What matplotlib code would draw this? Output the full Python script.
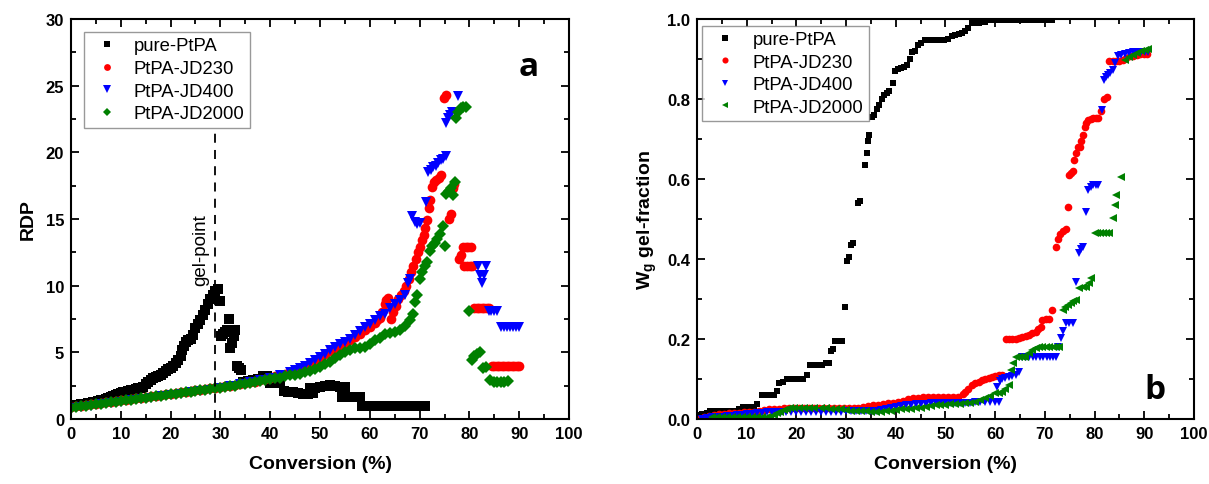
import matplotlib.pyplot as plt
from matplotlib.ticker import MultipleLocator

plt.rcParams['font.family'] = ['Liberation Sans', 'DejaVu Sans']
plt.rcParams['mathtext.fontset'] = 'custom'
plt.rcParams['mathtext.rm'] = 'Liberation Sans:bold'
plt.rcParams['mathtext.bf'] = 'Liberation Sans:bold'

labels = ['pure-PtPA', 'PtPA-JD230', 'PtPA-JD400', 'PtPA-JD2000']
colors = ['black', 'red', 'blue', 'green']

# ---- panel a: RDP vs conversion, (conversion %, RDP) ----
a_pure = [(0, 1.0), (0.5, 1.02), (1, 1.05), (1.5, 1.08), (2, 1.1), (2.5, 1.13), (3, 1.15),
          (3.5, 1.2), (4, 1.22), (4.5, 1.26), (5, 1.3), (5.5, 1.35), (6, 1.4), (6.5, 1.45),
          (7, 1.5), (7.5, 1.57), (8, 1.63), (8.5, 1.7), (9, 1.8), (9.5, 1.88), (10, 1.95),
          (10.5, 2.0), (11, 2.05), (11.5, 2.1), (12, 2.15), (12.5, 2.2), (13, 2.25), (13.5, 2.3),
          (14, 2.35), (14.5, 2.4), (15, 2.6), (15.5, 2.75), (16, 2.9), (16.5, 3.05), (17, 3.15),
          (17.5, 3.2), (18, 3.3), (18.5, 3.45), (19, 3.6), (19.5, 3.75), (20, 3.85), (20.5, 4.0),
          (21, 4.2), (21.5, 4.4), (22, 4.7), (22.3, 5.2), (22.6, 5.5), (23, 5.8), (23.5, 5.9),
          (24, 6.0), (24.5, 6.3), (25, 6.8), (25.5, 7.1), (26, 7.4), (26.5, 7.8), (27, 8.2),
          (27.5, 8.6), (28, 9.0), (28.5, 9.3), (29, 9.6), (29.5, 9.75), (29.9, 8.85), (30.2, 6.2),
          (30.6, 6.4), (31, 6.5), (31.4, 6.7), (31.7, 7.5), (32, 5.3), (32.3, 5.7), (32.7, 6.2),
          (33, 6.7), (33.3, 4.0), (33.8, 3.8), (34.2, 3.7), (34.6, 2.8), (35.5, 2.85), (36.5, 2.9),
          (37.5, 3.0), (38.5, 3.2), (39.3, 3.25), (40, 2.7), (41, 2.7), (42, 2.7), (42.7, 2.1),
          (43.5, 2.05), (44.5, 2.05), (45.5, 1.95), (46.5, 1.9), (47.5, 1.9), (48.5, 1.95),
          (48, 2.3), (49, 2.35), (50, 2.4), (51, 2.45), (52, 2.55), (53, 2.5), (54, 2.4), (55, 2.4),
          (54.5, 1.65), (55.5, 1.65), (56.5, 1.65), (57.5, 1.65), (58, 1.65), (58.5, 1.0),
          (59, 1.0), (59.5, 1.0), (60, 1.0), (60.5, 1.0), (61, 1.0), (61.5, 1.0), (62, 1.0),
          (62.5, 1.0), (63, 1.0), (63.5, 1.0), (64, 1.0), (64.5, 1.0), (65, 1.0), (65.5, 1.0),
          (66, 1.0), (66.5, 1.0), (67, 1.0), (67.5, 1.0), (68, 1.0), (68.5, 1.0), (69, 1.0),
          (69.5, 1.0), (70, 1.0), (70.5, 1.0), (71, 1.0)]

a_jd230 = [(0, 0.9), (1, 0.95), (2, 1.0), (3, 1.05), (4, 1.1), (5, 1.15), (6, 1.2), (7, 1.25),
           (8, 1.3), (9, 1.35), (10, 1.4), (11, 1.45), (12, 1.5), (13, 1.55), (14, 1.6), (15, 1.65),
           (16, 1.7), (17, 1.75), (18, 1.8), (19, 1.85), (20, 1.9), (21, 1.95), (22, 2.0),
           (23, 2.05), (24, 2.1), (25, 2.15), (26, 2.2), (27, 2.25), (28, 2.3), (29, 2.35),
           (30, 2.4), (31, 2.45), (32, 2.5), (33, 2.55), (34, 2.6), (35, 2.7), (36, 2.75),
           (37, 2.8), (38, 2.9), (39, 3.0), (40, 3.1), (41, 3.2), (42, 3.3), (43, 3.4), (44, 3.5),
           (45, 3.6), (46, 3.75), (47, 3.95), (48, 4.15), (49, 4.35), (50, 4.6), (51, 4.85),
           (52, 5.1), (53, 5.3), (54, 5.5), (55, 5.7), (56, 5.9), (57, 6.15), (58, 6.4), (59, 6.7),
           (60, 6.9), (61, 7.2), (61.5, 7.4), (62, 7.6), (62.5, 8.0), (63, 8.6), (63.3, 8.9),
           (63.7, 9.1), (64.2, 7.5), (64.6, 8.0), (65.2, 8.5), (65.7, 9.0), (66.2, 9.3),
           (66.8, 9.6), (67.3, 10.0), (67.8, 10.5), (68.2, 11.0), (68.7, 11.5), (69.2, 12.0),
           (69.6, 12.5), (70, 12.9), (70.4, 13.4), (70.8, 13.8), (71.1, 14.3), (71.4, 14.9),
           (71.8, 15.8), (72.1, 16.4), (72.5, 17.4), (72.8, 17.8), (73.3, 17.9), (73.8, 18.1),
           (74.2, 18.3), (74.8, 24.1), (75.3, 24.3), (75.8, 15.0), (76.2, 15.4), (76.6, 17.3),
           (76.9, 17.6), (78, 12.0), (78.4, 12.3), (78.8, 12.9), (79.3, 12.9), (79.8, 12.9),
           (80.3, 12.9), (79.0, 11.5), (79.6, 11.5), (80.2, 11.5), (80.6, 11.5), (81, 8.3),
           (81.5, 8.3), (82, 8.3), (82.5, 8.3), (83, 8.3), (83.5, 8.3), (84, 8.3), (84.5, 4.0),
           (85, 4.0), (85.5, 4.0), (86, 4.0), (86.5, 4.0), (87, 4.0), (87.5, 4.0), (88, 4.0),
           (88.5, 4.0), (89, 4.0), (89.5, 4.0), (90, 4.0)]

a_jd400 = [(0, 0.8), (2, 0.9), (4, 1.0), (6, 1.1), (8, 1.2), (10, 1.3), (12, 1.4), (14, 1.5),
           (16, 1.6), (18, 1.7), (20, 1.8), (22, 1.9), (24, 2.0), (26, 2.1), (28, 2.2), (30, 2.3),
           (32, 2.45), (34, 2.6), (36, 2.75), (38, 2.9), (40, 3.1), (42, 3.3), (44, 3.5),
           (45, 3.65), (46, 3.8), (47, 4.0), (48, 4.2), (49, 4.4), (50, 4.65), (51, 4.9), (52, 5.2),
           (53, 5.4), (54, 5.6), (55, 5.8), (56, 6.0), (57, 6.3), (58, 6.6), (59, 6.9), (60, 7.1),
           (61, 7.4), (62, 7.7), (63, 7.9), (64, 8.3), (65, 8.6), (66, 8.9), (67, 9.3),
           (67.6, 10.2), (68, 10.5), (68.5, 15.2), (69, 14.8), (69.5, 14.6), (70, 14.7),
           (71.2, 16.3), (71.7, 18.5), (72.2, 18.7), (72.7, 18.9), (73.2, 19.0), (73.7, 19.2),
           (74.2, 19.4), (74.7, 19.5), (75.2, 19.7), (75.2, 22.2), (75.6, 22.6), (76, 22.8),
           (76.5, 23.0), (77.6, 24.2), (81.8, 11.5), (82.2, 10.8), (82.6, 10.2), (83, 10.8),
           (83.4, 11.5), (83.9, 8.1), (84.4, 8.1), (85, 8.1), (85.6, 8.1), (86.4, 6.9), (87, 6.9),
           (87.6, 6.9), (88.2, 6.9), (88.8, 6.9), (89.4, 6.9), (90, 6.9)]

a_jd2000 = [(0, 0.85), (1, 0.9), (2, 0.95), (3, 1.0), (4, 1.05), (5, 1.1), (6, 1.15), (7, 1.2),
            (8, 1.25), (9, 1.3), (10, 1.35), (11, 1.4), (12, 1.45), (13, 1.5), (14, 1.55),
            (15, 1.6), (16, 1.65), (17, 1.7), (18, 1.75), (19, 1.8), (20, 1.85), (21, 1.9),
            (22, 1.95), (23, 2.0), (24, 2.05), (25, 2.1), (26, 2.15), (27, 2.2), (28, 2.25),
            (29, 2.3), (30, 2.35), (31, 2.4), (32, 2.45), (33, 2.5), (34, 2.6), (35, 2.65),
            (36, 2.7), (37, 2.8), (38, 2.85), (39, 2.95), (40, 3.0), (41, 3.05), (42, 3.1),
            (43, 3.2), (44, 3.3), (45, 3.3), (46, 3.35), (47, 3.5), (48, 3.6), (49, 3.75),
            (50, 3.9), (51, 4.1), (52, 4.3), (53, 4.55), (54, 4.8), (55, 5.0), (56, 5.2), (57, 5.3),
            (58, 5.35), (59, 5.4), (60, 5.6), (61, 5.9), (62, 6.1), (63, 6.35), (64, 6.45),
            (65, 6.5), (66, 6.7), (67, 7.0), (68, 7.4), (68.7, 7.9), (69, 8.8), (69.4, 9.3),
            (70, 10.5), (70.4, 11.0), (71, 11.5), (71.4, 11.8), (72, 12.6), (72.5, 13.0),
            (73, 13.2), (73.5, 13.5), (74, 13.9), (74.6, 14.5), (75, 13.0), (75.3, 16.9),
            (75.8, 17.1), (76.3, 17.3), (76.7, 16.8), (77, 17.8), (77.3, 22.6), (77.8, 23.0),
            (78.3, 23.3), (78.8, 23.4), (79.3, 23.4), (80, 8.1), (80.5, 4.4), (81, 4.7),
            (81.5, 4.9), (82.1, 5.0), (82.7, 3.8), (83.4, 3.9), (84.2, 2.9), (84.9, 2.8),
            (85.6, 2.8), (86.3, 2.8), (87, 2.8), (87.7, 2.85)]

# ---- panel b: gel fraction vs conversion ----
b_pure = [(0, 0.01), (1, 0.012), (2, 0.015), (2.6, 0.02), (3.5, 0.02), (4.5, 0.02), (5.5, 0.02),
          (6.5, 0.02), (7.5, 0.02), (8.5, 0.025), (9.3, 0.03), (10, 0.03), (10.7, 0.03),
          (11.4, 0.03), (12, 0.037), (13, 0.06), (13.8, 0.06), (14.6, 0.06), (15.4, 0.06),
          (16.2, 0.07), (16.6, 0.09), (17.4, 0.093), (18.2, 0.1), (19, 0.1), (19.8, 0.1),
          (20.6, 0.1), (21.4, 0.1), (22.2, 0.11), (22.8, 0.135), (23.6, 0.135), (24.4, 0.135),
          (25.2, 0.135), (26, 0.14), (26.6, 0.14), (26.9, 0.17), (27.4, 0.175), (27.8, 0.195),
          (28.5, 0.195), (29.2, 0.195), (29.7, 0.28), (30.1, 0.395), (30.5, 0.405), (31, 0.435),
          (31.3, 0.44), (32.5, 0.54), (32.9, 0.545), (33.8, 0.635), (34.2, 0.665), (34.4, 0.695),
          (34.6, 0.71), (35.2, 0.755), (35.7, 0.76), (36.2, 0.775), (36.7, 0.785), (37.2, 0.8),
          (37.7, 0.81), (38.2, 0.815), (38.7, 0.82), (39.4, 0.84), (39.9, 0.87), (40.4, 0.875),
          (41, 0.878), (41.6, 0.88), (42.2, 0.885), (42.8, 0.9), (43.2, 0.918), (43.8, 0.92),
          (44.4, 0.935), (45, 0.94), (45.8, 0.948), (46.6, 0.948), (47.4, 0.948), (48.2, 0.948),
          (49, 0.948), (49.8, 0.948), (50.6, 0.95), (51.3, 0.956), (52, 0.96), (52.7, 0.962),
          (53.3, 0.964), (54, 0.97), (54.6, 0.977), (55.3, 0.99), (56, 0.99), (56.7, 0.99),
          (57.4, 0.992), (58, 0.993), (58.7, 0.997), (59.5, 0.997), (60.3, 0.997), (61.1, 0.997),
          (61.9, 0.997), (62.7, 0.997), (63.5, 0.997), (64.3, 0.997), (65.1, 0.997), (65.9, 0.997),
          (66.7, 0.997), (67.5, 0.997), (68.3, 0.997), (69.1, 0.997), (69.9, 0.997), (70.7, 0.997),
          (71.5, 0.997)]

b_jd230 = [(0.5, 0.0), (1.5, 0.005), (2.5, 0.008), (3.5, 0.01), (4.5, 0.012), (5.5, 0.013),
           (6.5, 0.014), (7.5, 0.015), (8.5, 0.016), (9.5, 0.017), (10.5, 0.018), (11.5, 0.018),
           (12.5, 0.02), (13.5, 0.022), (14.5, 0.024), (15.5, 0.025), (16.5, 0.026), (17.5, 0.027),
           (18.5, 0.027), (19.5, 0.028), (20.5, 0.028), (21.5, 0.028), (22.5, 0.028),
           (23.5, 0.028), (24.5, 0.028), (25.5, 0.028), (26.5, 0.028), (27.5, 0.028),
           (28.5, 0.028), (29.5, 0.028), (30.5, 0.028), (31.5, 0.028), (32.5, 0.028), (33.5, 0.03),
           (34.5, 0.032), (35.5, 0.034), (36.5, 0.036), (37.5, 0.037), (38.5, 0.039), (39.5, 0.041),
           (40.5, 0.043), (41.5, 0.046), (42.5, 0.05), (43.5, 0.052), (44.5, 0.053), (45.5, 0.055),
           (46.5, 0.056), (47.5, 0.056), (48.5, 0.056), (49.5, 0.056), (50.5, 0.056), (51.5, 0.056),
           (52.5, 0.056), (53.5, 0.062), (54, 0.068), (54.6, 0.076), (55.3, 0.085), (56, 0.09),
           (56.7, 0.093), (57.3, 0.097), (58, 0.1), (58.7, 0.103), (59.4, 0.106), (60, 0.108),
           (60.7, 0.11), (61.4, 0.11), (62.1, 0.2), (62.7, 0.2), (63.4, 0.2), (64.1, 0.201),
           (64.8, 0.202), (65.5, 0.205), (66.2, 0.208), (66.8, 0.21), (67.5, 0.214), (68.2, 0.218),
           (68.7, 0.225), (69.2, 0.231), (69.5, 0.248), (70.2, 0.25), (70.9, 0.25), (71.5, 0.273),
           (72.2, 0.431), (72.6, 0.45), (73.1, 0.462), (73.6, 0.469), (74.2, 0.476), (74.6, 0.531),
           (74.9, 0.61), (75.3, 0.615), (75.6, 0.621), (75.9, 0.648), (76.3, 0.665), (76.6, 0.681),
           (77, 0.681), (77.3, 0.695), (77.6, 0.71), (78, 0.731), (78.3, 0.74), (78.6, 0.748),
           (79.2, 0.75), (79.7, 0.752), (80.3, 0.753), (80.8, 0.753), (81.4, 0.77), (82, 0.8),
           (82.5, 0.805), (83, 0.894), (83.7, 0.894), (84.4, 0.894), (85, 0.895), (85.7, 0.898),
           (86.4, 0.902), (87.1, 0.906), (87.8, 0.908), (88.5, 0.91), (89.2, 0.912), (89.9, 0.913),
           (90.5, 0.913)]

b_jd400 = [(1, 0.0), (2, 0.002), (3, 0.004), (4, 0.005), (5, 0.006), (6, 0.007), (7, 0.008),
           (8, 0.01), (9, 0.011), (10, 0.012), (11, 0.013), (12, 0.015), (13, 0.016), (14, 0.017),
           (15, 0.018), (16, 0.018), (17, 0.018), (18, 0.018), (19, 0.018), (20, 0.018),
           (21, 0.018), (22, 0.018), (23, 0.018), (24, 0.018), (25, 0.018), (26, 0.018),
           (27, 0.018), (28, 0.018), (29, 0.018), (30, 0.02), (31, 0.02), (32, 0.02), (33, 0.02),
           (34, 0.02), (35, 0.02), (36, 0.02), (37, 0.022), (38, 0.024), (39, 0.027), (40, 0.03),
           (41, 0.033), (42, 0.035), (43, 0.036), (44, 0.037), (45, 0.037), (46, 0.038),
           (47, 0.039), (48, 0.039), (49, 0.039), (50, 0.039), (51, 0.04), (52, 0.04), (53, 0.041),
           (54, 0.041), (55, 0.041), (56, 0.042), (57, 0.042), (58, 0.042), (59, 0.043),
           (60, 0.043), (60.7, 0.043), (60.4, 0.081), (61, 0.095), (61.4, 0.1), (62, 0.102),
           (62.7, 0.105), (63.4, 0.108), (64.1, 0.111), (64.8, 0.118), (65.5, 0.156), (66.2, 0.156),
           (66.9, 0.156), (67.6, 0.156), (68.3, 0.156), (69, 0.156), (69.7, 0.156), (70.4, 0.156),
           (71.1, 0.156), (71.7, 0.156), (72.2, 0.156), (72.7, 0.18), (73.2, 0.202), (73.7, 0.22),
           (74.2, 0.239), (74.9, 0.239), (75.6, 0.239), (76.3, 0.343), (76.9, 0.414), (77.2, 0.425),
           (77.6, 0.431), (78.2, 0.518), (78.6, 0.573), (79.2, 0.58), (79.7, 0.585), (80.2, 0.585),
           (80.7, 0.585), (81.5, 0.773), (82, 0.848), (82.4, 0.855), (82.7, 0.86), (83.2, 0.866),
           (83.7, 0.873), (84.2, 0.89), (84.7, 0.906), (85.4, 0.91), (86.1, 0.913), (86.9, 0.915),
           (87.8, 0.917), (88.6, 0.917), (89.4, 0.917), (90.1, 0.917), (90.8, 0.917)]

b_jd2000 = [(3, 0.006), (4, 0.006), (5, 0.006), (6, 0.006), (7, 0.006), (8, 0.006), (9, 0.006),
            (10, 0.006), (11, 0.006), (12, 0.006), (13, 0.006), (14, 0.006), (14.7, 0.006),
            (15.4, 0.01), (16.1, 0.014), (16.8, 0.018), (17.5, 0.022), (18.2, 0.025), (18.8, 0.027),
            (19.5, 0.028), (20.5, 0.028), (21.5, 0.028), (22.5, 0.028), (23.5, 0.028), (25, 0.028),
            (26, 0.027), (27, 0.026), (28, 0.025), (29, 0.024), (30, 0.022), (31, 0.021),
            (32, 0.02), (33, 0.02), (34, 0.019), (35, 0.018), (36, 0.018), (37, 0.018), (38, 0.019),
            (39, 0.02), (40, 0.022), (41, 0.024), (42, 0.025), (43, 0.026), (44, 0.027),
            (45, 0.027), (46, 0.03), (47, 0.032), (48, 0.034), (49, 0.035), (50, 0.036),
            (51, 0.037), (52, 0.038), (53, 0.038), (54, 0.039), (55, 0.04), (56, 0.043),
            (57, 0.048), (58, 0.052), (59, 0.058), (60, 0.064), (60.7, 0.066), (61.4, 0.068),
            (62, 0.075), (62.7, 0.085), (63.1, 0.123), (63.6, 0.14), (64.1, 0.156), (64.8, 0.156),
            (65.4, 0.156), (66.1, 0.156), (66.8, 0.165), (67.5, 0.172), (68.2, 0.177), (68.8, 0.18),
            (69.5, 0.181), (70.2, 0.181), (70.9, 0.181), (71.6, 0.181), (72.3, 0.181), (72.9, 0.181),
            (73.6, 0.273), (74.1, 0.28), (74.6, 0.285), (75.2, 0.29), (75.7, 0.295), (76.3, 0.298),
            (76.9, 0.327), (77.6, 0.33), (78.3, 0.331), (78.8, 0.34), (79.3, 0.352), (80, 0.464),
            (80.6, 0.464), (81.2, 0.464), (81.8, 0.464), (82.4, 0.464), (83, 0.464), (83.7, 0.502),
            (84.1, 0.535), (84.4, 0.56), (85.4, 0.606), (86.1, 0.898), (86.9, 0.905), (87.8, 0.91),
            (88.6, 0.915), (89.4, 0.92), (90.1, 0.922), (90.8, 0.925)]

fig = plt.figure(figsize=(12.09, 4.85), dpi=100)
ax1 = fig.add_axes([0.0587, 0.134, 0.412, 0.825])
ax2 = fig.add_axes([0.5765, 0.134, 0.411, 0.825])

a_series = [(a_pure, 's', 7), (a_jd230, 'o', 7), (a_jd400, 'v', 7.5), (a_jd2000, 'D', 5.8)]
for (pts, m, ms), c, lab in zip(a_series, colors, labels):
    x, y = zip(*pts)
    ax1.plot(x, y, linestyle='none', marker=m, color=c, markersize=ms,
             markeredgewidth=0, label=lab)

b_series = [(b_pure, 's', 5), (b_jd230, 'o', 5.5), (b_jd400, 'v', 6), (b_jd2000, '<', 6)]
for (pts, m, ms), c, lab in zip(b_series, colors, labels):
    x, y = zip(*pts)
    ax2.plot(x, y, linestyle='none', marker=m, color=c, markersize=ms,
             markeredgewidth=0, label=lab)

# gel point marker
ax1.plot([29, 29], [0, 21.6], color='black', linestyle=(0, (5, 4)), linewidth=1.3)
ax1.text(26.0, 12.7, 'gel-point', rotation=90, fontsize=13.5, ha='center', va='center')

ax1.set_xlim(0, 100)
ax1.set_ylim(0, 30)
ax1.xaxis.set_major_locator(MultipleLocator(10))
ax1.xaxis.set_minor_locator(MultipleLocator(5))
ax1.yaxis.set_major_locator(MultipleLocator(5))
ax1.yaxis.set_minor_locator(MultipleLocator(2.5))
ax1.set_xlabel('Conversion (%)', fontsize=14, fontweight='bold', labelpad=10)
ax1.set_ylabel('RDP', fontsize=14, fontweight='bold', labelpad=6)
ax1.text(0.918, 0.88, 'a', transform=ax1.transAxes, fontsize=24, fontweight='bold',
         family=['Open Sans', 'DejaVu Sans'], ha='center', va='center')

ax2.set_xlim(0, 100)
ax2.set_ylim(0, 1.0)
ax2.xaxis.set_major_locator(MultipleLocator(10))
ax2.xaxis.set_minor_locator(MultipleLocator(5))
ax2.yaxis.set_major_locator(MultipleLocator(0.2))
ax2.yaxis.set_minor_locator(MultipleLocator(0.1))
ax2.set_xlabel('Conversion (%)', fontsize=14, fontweight='bold', labelpad=10)
ax2.set_ylabel(r'W$_{\mathrm{g}}$ gel-fraction', fontsize=14, fontweight='bold', labelpad=6)
ax2.text(0.921, 0.075, 'b', transform=ax2.transAxes, fontsize=24, fontweight='bold',
         family=['Open Sans', 'DejaVu Sans'], ha='center', va='center')

for ax in (ax1, ax2):
    ax.tick_params(which='both', direction='in', top=True, right=True, width=1.3)
    ax.tick_params(which='major', length=6, labelsize=12, pad=5)
    ax.tick_params(which='minor', length=3.5)
    for lbl in ax.get_xticklabels() + ax.get_yticklabels():
        lbl.set_fontweight('bold')
    for sp in ax.spines.values():
        sp.set_linewidth(1.5)

leg1 = ax1.legend(loc='upper left', bbox_to_anchor=(0.026, 0.9675), borderaxespad=0,
                  fontsize=13.3, frameon=True, fancybox=False, edgecolor='#808080',
                  handlelength=1.85, handletextpad=0.55, labelspacing=0.3, borderpad=0.3,
                  markerscale=0.7)
leg1.get_frame().set_linewidth(1.0)
leg2 = ax2.legend(loc='upper left', bbox_to_anchor=(0.011, 0.983), borderaxespad=0,
                  fontsize=13.3, frameon=True, fancybox=False, edgecolor='#808080',
                  handlelength=1.85, handletextpad=0.55, labelspacing=0.3, borderpad=0.3,
                  markerscale=0.8)
leg2.get_frame().set_linewidth(1.0)

fig.savefig('out.png', dpi=100)
